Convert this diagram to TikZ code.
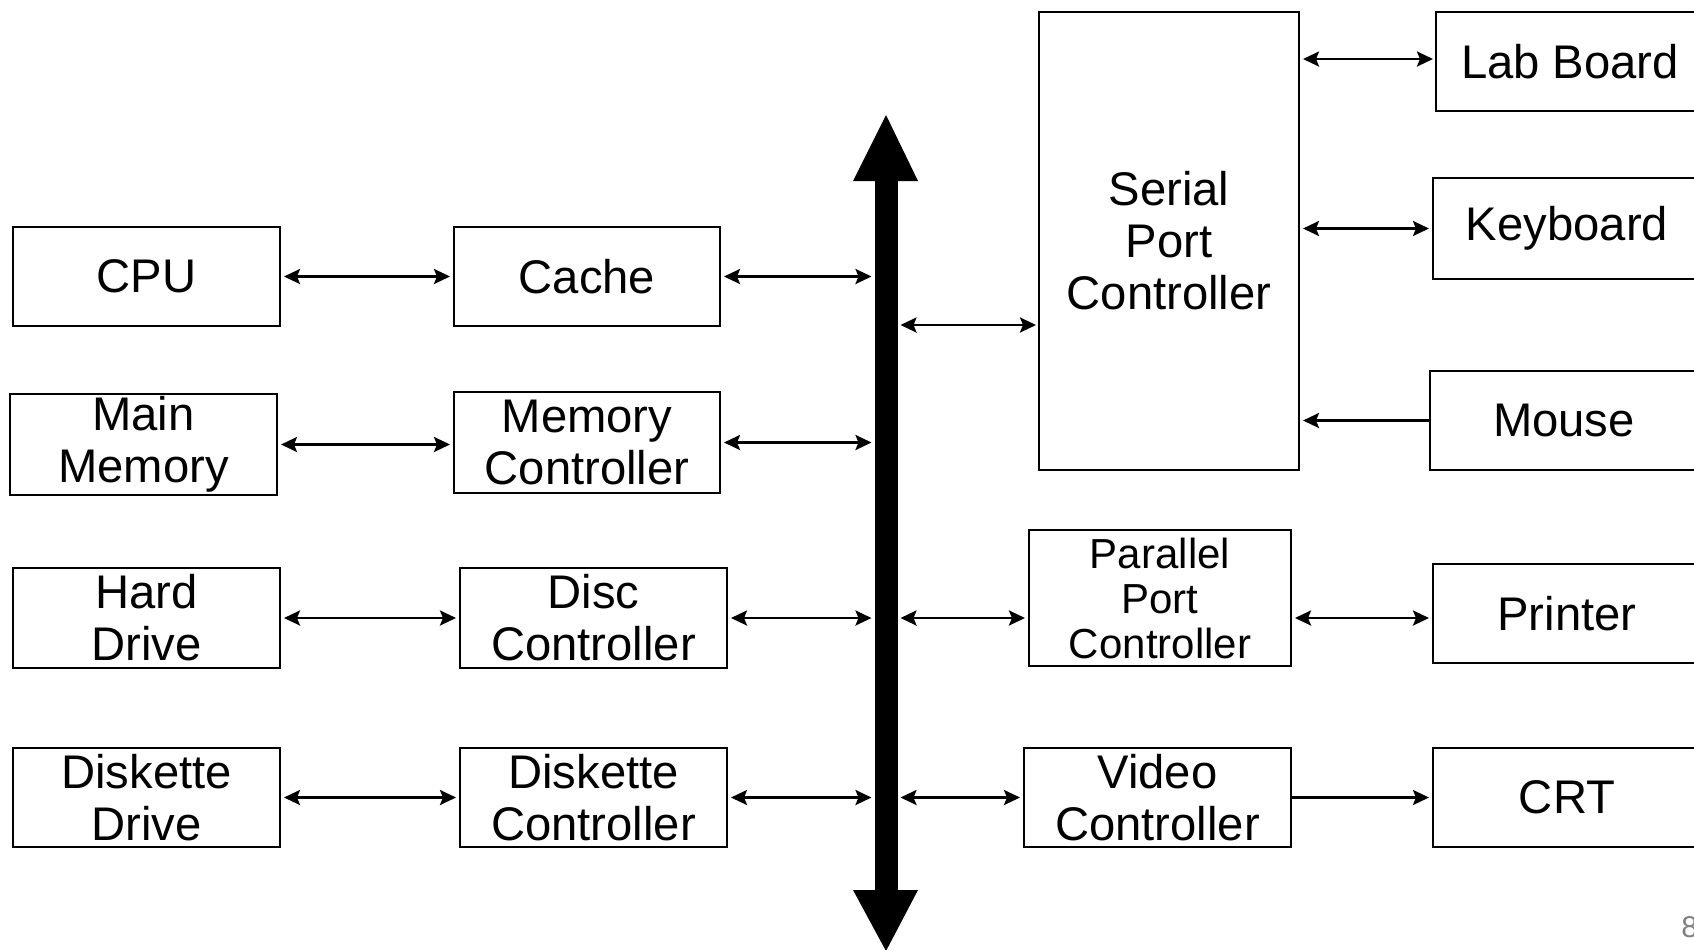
\documentclass[tikz,border=0pt]{standalone}
\usepackage{fontspec}
\setmainfont{Liberation Sans}
\usetikzlibrary{positioning,calc,arrows.meta}

\tikzset{
    unit/.style={draw, line width=1pt, inner sep=0pt, align=center,
        font=\fontsize{23.6}{26}\selectfont},
    smallunit/.style={unit, font=\fontsize{21}{22.5}\selectfont},
    link/.style={line width=1.3pt, shorten <=1.5pt, shorten >=1.5pt,
        {Stealth[length=8pt,width=7.5pt,inset=1.5pt]}-{Stealth[length=8pt,width=7.5pt,inset=1.5pt]}},
    feed/.style={line width=1.3pt, shorten >=1.5pt,
        -{Stealth[length=8pt,width=7.5pt,inset=1.5pt]}},
}

\begin{document}
\begin{tikzpicture}[x=0.5pt, y=-0.5pt]
    \useasboundingbox (0,0) rectangle (1694,949);

    % System bus
    \node[fill, inner sep=0pt, outer sep=0pt, minimum width=11.5pt, minimum height=355.5pt] (bus) at (886,535.5) {};
    \fill (853,181) -- (886,115) -- (918,181) -- cycle;
    \fill (853,890) -- (886,951) -- (918,890) -- cycle;

    % Left column: devices
    \node[unit, minimum width=133.5pt, minimum height=49.5pt] (cpu) at (146.5,276.5) {CPU};
    \node[unit, minimum width=133.5pt, minimum height=50.5pt] (mem) at (143.5,444.5) {Main\\Memory};
    \node[unit, minimum width=133.5pt, minimum height=50pt] (hdd) at (146.5,618) {Hard\\Drive};
    \node[unit, minimum width=133.5pt, minimum height=49.5pt] (fdd) at (146.5,797.5) {Diskette\\Drive};

    % Left column: controllers
    \node[unit, minimum width=133pt, minimum height=49.5pt] (cache) at (587,276.5) {Cache};
    \node[unit, minimum width=133pt, minimum height=50.5pt] (memctl) at (587,442.5) {Memory\\Controller};
    \node[unit, minimum width=133.5pt, minimum height=50pt] (discctl) at (593.5,618) {Disc\\Controller};
    \node[unit, minimum width=133.5pt, minimum height=49.5pt] (fddctl) at (593.5,797.5) {Diskette\\Controller};

    % Right column: controllers
    \node[unit, minimum width=130pt, minimum height=229pt] (serial) at (1169,241) {Serial\\Port\\Controller};
    \node[smallunit, minimum width=131pt, minimum height=68pt] (parallel) at (1160,598) {Parallel\\Port\\Controller};
    \node[unit, minimum width=133.5pt, minimum height=49.5pt] (video) at (1157.5,797.5) {Video\\Controller};

    % Right column: peripherals
    \node[unit, minimum width=134pt, minimum height=49.5pt] (lab) at (1570,61.5) {Lab Board};
    \node[unit, minimum width=134pt, minimum height=50.5pt] (keys) at (1567,228.5) {Keyboard};
    \node[unit, minimum width=134pt, minimum height=49.5pt] (mouse) at (1564,420.5) {Mouse};
    \node[unit, minimum width=134pt, minimum height=49.5pt] (printer) at (1567,613.5) {Printer};
    \node[unit, minimum width=134pt, minimum height=49.5pt] (crt) at (1567,797.5) {CRT};

    % Device to controller links
    \draw[link] (cpu) -- (cache);
    \draw[link] (mem.east) -- (mem.east -| memctl.west);
    \draw[link] (hdd) -- (discctl);
    \draw[link] (fdd) -- (fddctl);

    % Controllers onto the bus
    \foreach \ctl in {cache, memctl, discctl, fddctl} {
        \draw[link] (\ctl.east) -- (\ctl.east -| bus.west);
    }
    \coordinate (sp) at (1039,325);
    \draw[link] (bus.east |- sp) -- (sp);
    \draw[link] (bus.east |- discctl.east) -- (parallel.west |- discctl.east);
    \draw[link] (bus.east |- video.west) -- (video.west);

    % Peripherals
    \coordinate (labport) at (1436,59);
    \draw[link] (labport -| serial.east) -- (labport);
    \draw[link] (keys.west -| serial.east) -- (keys.west);
    \draw[feed] (mouse.west) -- (mouse.west -| serial.east);
    \draw[link] (discctl.east -| parallel.east) -- (discctl.east -| printer.west);
    \draw[feed] (video.east) -- (video.east -| crt.west);

    % Page number
    \node[anchor=west, inner sep=0pt, text=gray, font=\fontsize{15}{18}\selectfont] (page) at (1681,927) {8};
\end{tikzpicture}
\end{document}
